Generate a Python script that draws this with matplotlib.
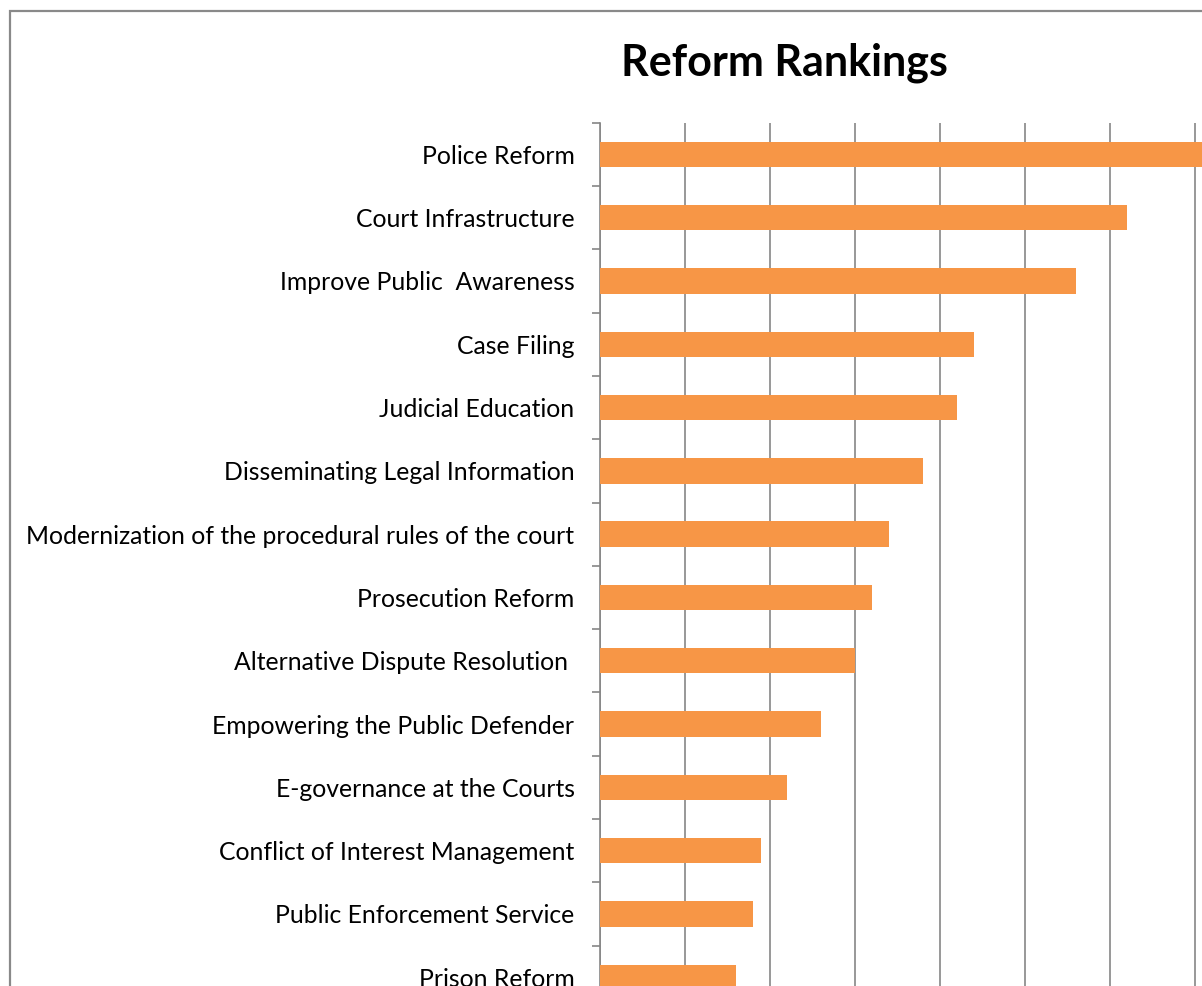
import matplotlib
matplotlib.use("Agg")
import matplotlib.pyplot as plt
from matplotlib.patches import Rectangle

# reform areas, top to bottom
reforms = [
    "Police Reform",
    "Court Infrastructure",
    "Improve Public  Awareness",
    "Case Filing",
    "Judicial Education",
    "Disseminating Legal Information",
    "Modernization of the procedural rules of the court",
    "Prosecution Reform",
    "Alternative Dispute Resolution ",
    "Empowering the Public Defender",
    "E-governance at the Courts",
    "Conflict of Interest Management",
    "Public Enforcement Service",
    "Prison Reform",
]
scores = [7.2, 6.2, 5.6, 4.4, 4.2, 3.8, 3.4, 3.2, 3.0, 2.6, 2.2, 1.9, 1.8, 1.6]
x_ticks = [0, 1, 2, 3, 4, 5, 6, 7, 8]

W, H = 1202, 986
fig = plt.figure(figsize=(W / 100, H / 100), dpi=100)
plt.rcParams['font.family'] = ['Lato', 'DejaVu Sans']

# chart area border (runs off the right and bottom edges)
fig.patches.append(Rectangle((10 / W, -0.1), 1.2, 1 - 11 / H + 0.1,
                             transform=fig.transFigure, fill=False,
                             edgecolor="#898989", linewidth=1.6))

n = len(reforms)
step = 63.3
left, top = 599.5, 122.7
ax = fig.add_axes([left / W, 1 - (top + n * step) / H, 8 * 85.05 / W, n * step / H])

pos = list(range(n))
ax.barh(pos, scores, height=0.4, color="#F79646", zorder=3)
ax.set_ylim(n - 0.5, -0.5)
ax.set_xlim(0, 8)

ax.set_xticks(x_ticks)
ax.tick_params(axis="x", length=0, labelbottom=False)
ax.grid(axis="x", color="#868686", linewidth=1.2, zorder=0)

ax.set_yticks([p - 0.5 for p in pos] + [n - 0.5])
ax.set_yticks(pos, minor=True)
ax.set_yticklabels([])
ax.set_yticklabels(reforms, minor=True, fontsize=17.8)
ax.tick_params(axis="y", which="major", direction="out", length=6,
               width=1.2, color="#868686")
ax.tick_params(axis="y", which="minor", length=0, pad=18)

for s in ["top", "right", "bottom"]:
    ax.spines[s].set_visible(False)
ax.spines["left"].set_color("#868686")
ax.spines["left"].set_linewidth(1.2)

fig.text(784 / W, 1 - 63 / H, "Reform Rankings", ha="center", va="center",
         fontsize=31, fontweight="bold")

fig.savefig("out.png", dpi=100)
